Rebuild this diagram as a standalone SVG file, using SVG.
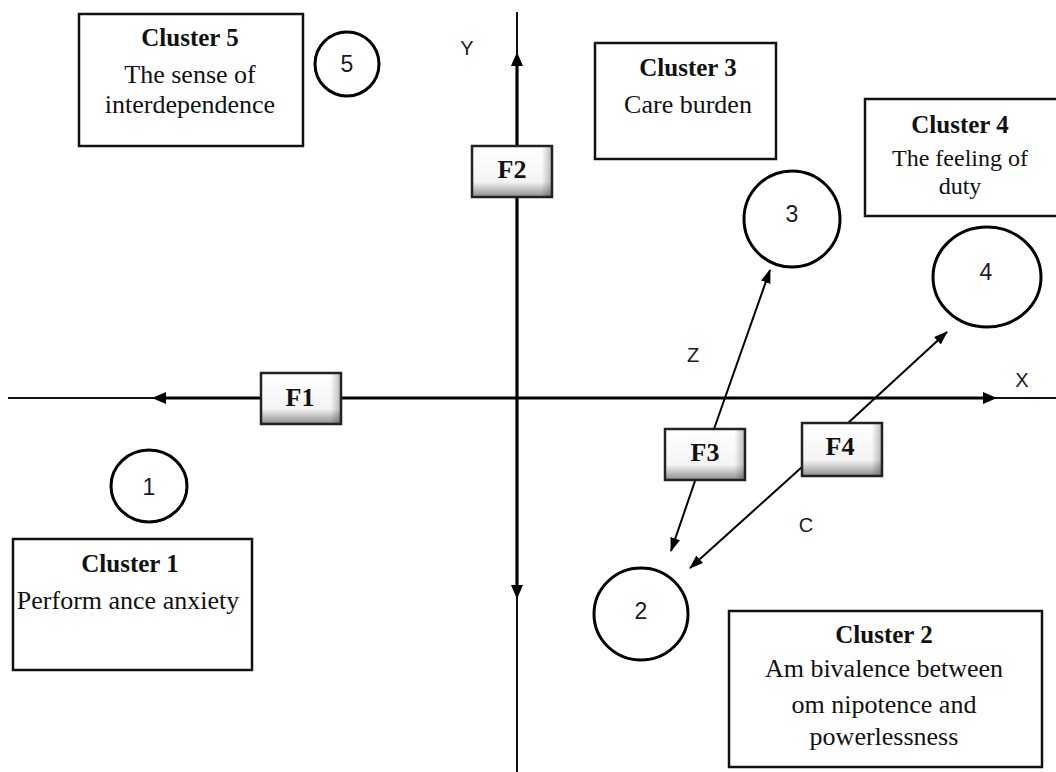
<svg xmlns="http://www.w3.org/2000/svg" width="1056" height="772" viewBox="0 0 1056 772">
<defs>
<style>
.box{fill:#fff;stroke:#111;stroke-width:2.5}
.circ{fill:none;stroke:#000;stroke-width:3}
.fbox{fill:url(#bevV);stroke:#222;stroke-width:2.5}
.fshade{fill:url(#bevH);stroke:none}
.ttl{font-family:"Liberation Serif",serif;font-weight:bold;font-size:25px;fill:#111;text-anchor:middle}
.txt{font-family:"Liberation Serif",serif;font-size:26px;fill:#111;text-anchor:middle}
.txs{font-family:"Liberation Serif",serif;font-size:24px;fill:#111;text-anchor:middle}
.flab{font-family:"Liberation Serif",serif;font-weight:bold;font-size:26px;fill:#111;text-anchor:middle}
.num{font-family:"Liberation Sans",sans-serif;font-size:23px;fill:#1a1a2a;text-anchor:middle}
.ax{font-family:"Liberation Sans",sans-serif;font-size:20px;fill:#1a1a2a;text-anchor:middle}
.thin{stroke:#111;stroke-width:2;fill:none}
.thick{stroke:#000;stroke-width:3.2;fill:none}
.con{stroke:#000;stroke-width:2;fill:none;marker-end:url(#arr)}
.head{fill:#000}
</style>
<linearGradient id="bevV" x1="0" y1="0" x2="0" y2="1">
<stop offset="0" stop-color="#ffffff"/>
<stop offset="0.7" stop-color="#f4f4f4"/>
<stop offset="1" stop-color="#8e8e8e"/>
</linearGradient>
<linearGradient id="bevH" x1="0" y1="0" x2="1" y2="0">
<stop offset="0" stop-color="#000" stop-opacity="0"/>
<stop offset="0.88" stop-color="#000" stop-opacity="0"/>
<stop offset="1" stop-color="#000" stop-opacity="0.25"/>
</linearGradient>
<marker id="arr" viewBox="0 0 14 10" refX="13" refY="5" markerWidth="14" markerHeight="10" markerUnits="userSpaceOnUse" orient="auto">
<path d="M0,0 L14,5 L0,10 z" fill="#000"/>
</marker>
</defs>

<g id="connectors">
<line class="thin" x1="8" y1="398" x2="1056" y2="398"/>
<line class="thick" x1="164" y1="398" x2="985" y2="398"/>
<polygon class="head" points="152,398 166,392 166,404"/>
<polygon class="head" points="997,398 983,392 983,404"/>
<line class="thin" x1="517" y1="12" x2="517" y2="772"/>
<line class="thick" x1="517" y1="64" x2="517" y2="588"/>
<polygon class="head" points="517,52 511,66 523,66"/>
<polygon class="head" points="517,599 511,585 523,585"/>
<line class="con" x1="714" y1="429" x2="770" y2="270"/>
<line class="con" x1="695" y1="481" x2="671" y2="551"/>
<line class="con" x1="848" y1="423" x2="947" y2="332"/>
<line class="con" x1="802" y1="467" x2="690" y2="568"/>
</g>

<g id="axis-labels">
<text class="ax" x="467" y="55">Y</text>
<text class="ax" x="1022" y="387">X</text>
<text class="ax" x="693" y="362">Z</text>
<text class="ax" x="806" y="532">C</text>
</g>

<g id="F1">
<rect class="fbox" x="261" y="373" width="80" height="51"/>
<rect class="fshade" x="262" y="374" width="78" height="49"/>
<text class="flab" x="300" y="406">F1</text>
</g>
<g id="F2">
<rect class="fbox" x="472" y="146" width="80" height="51"/>
<rect class="fshade" x="473" y="147" width="78" height="49"/>
<text class="flab" x="512" y="178">F2</text>
</g>
<g id="F3">
<rect class="fbox" x="665" y="429" width="80" height="51"/>
<rect class="fshade" x="666" y="430" width="78" height="49"/>
<text class="flab" x="705" y="461">F3</text>
</g>
<g id="F4">
<rect class="fbox" x="802" y="423" width="80" height="53"/>
<rect class="fshade" x="803" y="424" width="78" height="51"/>
<text class="flab" x="840" y="455">F4</text>
</g>

<g id="cluster5">
<rect class="box" x="79" y="14" width="224" height="132"/>
<text class="ttl" x="190" y="46">Cluster 5</text>
<text class="txt" x="190" y="83">The sense of</text>
<text class="txt" x="190" y="113">interdependence</text>
</g>
<g id="circle5">
<circle class="circ" cx="347" cy="64" r="32"/>
<text class="num" x="347" y="72">5</text>
</g>

<g id="cluster3">
<rect class="box" x="595" y="43" width="181" height="116"/>
<text class="ttl" x="688" y="76">Cluster 3</text>
<text class="txt" x="688" y="113">Care burden</text>
</g>
<g id="circle3">
<circle class="circ" cx="792" cy="219" r="48"/>
<text class="num" x="792" y="222">3</text>
</g>

<g id="cluster4">
<rect class="box" x="865" y="99" width="195" height="117"/>
<text class="ttl" x="960" y="133">Cluster 4</text>
<text class="txs" x="960" y="166">The feeling of</text>
<text class="txs" x="960" y="194">duty</text>
</g>
<g id="circle4">
<ellipse class="circ" cx="987" cy="277" rx="54" ry="50"/>
<text class="num" x="986" y="280">4</text>
</g>

<g id="circle1">
<ellipse class="circ" cx="149" cy="486" rx="38" ry="36"/>
<text class="num" x="149" y="495">1</text>
</g>
<g id="cluster1">
<rect class="box" x="13" y="539" width="239" height="131"/>
<text class="ttl" x="130" y="572">Cluster 1</text>
<text class="txt" x="128" y="609">Perform ance anxiety</text>
</g>

<g id="circle2">
<ellipse class="circ" cx="641" cy="614" rx="47" ry="46"/>
<text class="num" x="641" y="619">2</text>
</g>
<g id="cluster2">
<rect class="box" x="729" y="611" width="313" height="156"/>
<text class="ttl" x="884" y="643">Cluster 2</text>
<text class="txt" x="884" y="677">Am bivalence between</text>
<text class="txt" x="884" y="713">om nipotence and</text>
<text class="txt" x="884" y="745">powerlessness</text>
</g>
</svg>
